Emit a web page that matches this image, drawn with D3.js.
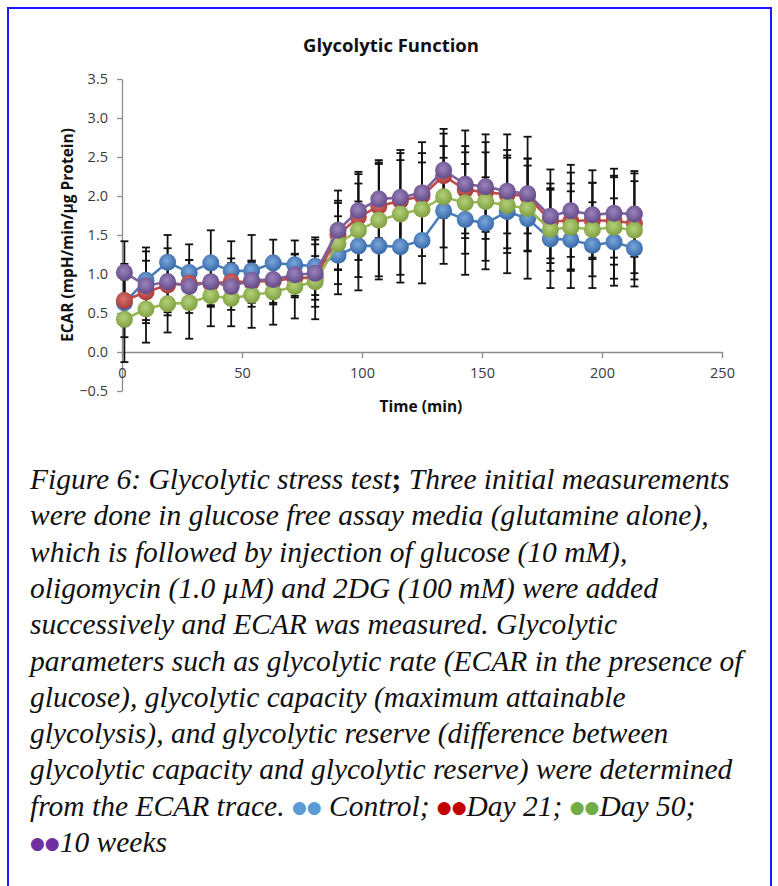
<!DOCTYPE html>
<html>
<head>
<meta charset="utf-8">
<script src="https://cdn.jsdelivr.net/npm/d3@7"></script>
<style>
  body { margin: 0; background: #fff; }
  svg { display: block; }
</style>
</head>
<body>
<script>
// time of each measurement (min)
var times = [1, 10, 19, 28, 37, 45.5, 54, 63, 72, 80.5, 90, 98.5, 107, 116, 125,
             134, 143, 151.5, 160.5, 169, 178.5, 187, 196, 205, 213.5];

var seriesNames = ['Control', 'Day 21', 'Day 50', '10 weeks'];

// mean ECAR values
var control = [0.63, 0.92, 1.15, 1.02, 1.14, 1.04, 1.04, 1.14, 1.12, 1.10, 1.24, 1.36, 1.36, 1.35, 1.43,
               1.81, 1.70, 1.65, 1.80, 1.71, 1.45, 1.44, 1.37, 1.41, 1.33];
var day21 = [0.66, 0.77, 0.86, 0.88, 0.88, 0.90, 0.90, 0.91, 0.95, 0.95, 1.50, 1.73, 1.87, 1.94, 2.00,
             2.26, 2.08, 2.05, 2.02, 2.00, 1.68, 1.68, 1.69, 1.68, 1.65];
var day50 = [0.42, 0.55, 0.62, 0.63, 0.72, 0.69, 0.73, 0.77, 0.84, 0.90, 1.39, 1.56, 1.69, 1.77, 1.83,
             1.99, 1.91, 1.93, 1.88, 1.84, 1.57, 1.60, 1.57, 1.60, 1.56];
var weeks10 = [1.02, 0.85, 0.90, 0.84, 0.90, 0.84, 0.92, 0.93, 0.99, 1.01, 1.56, 1.81, 1.96, 1.98, 2.04,
               2.33, 2.15, 2.12, 2.06, 2.03, 1.74, 1.81, 1.76, 1.78, 1.77];

// error (+/-) for each series
var controlErr = [0.30, 0.42, 0.35, 0.36, 0.42, 0.38, 0.46, 0.30, 0.31, 0.37, 0.50, 0.57, 0.43, 0.46, 0.55,
                  0.68, 0.71, 0.59, 0.79, 0.77, 0.63, 0.62, 0.55, 0.56, 0.49];
var day21Err = [0.47, 0.40, 0.35, 0.30, 0.30, 0.30, 0.27, 0.30, 0.25, 0.28, 0.44, 0.55, 0.56, 0.52, 0.55,
                0.54, 0.56, 0.51, 0.50, 0.48, 0.48, 0.62, 0.48, 0.56, 0.64];
var day50Err = [0.55, 0.43, 0.37, 0.46, 0.39, 0.36, 0.42, 0.42, 0.41, 0.48, 0.52, 0.60, 0.72, 0.78, 0.60,
                0.65, 0.65, 0.76, 0.61, 0.55, 0.53, 0.56, 0.60, 0.66, 0.63];
var weeks10Err = [0.40, 0.44, 0.43, 0.34, 0.30, 0.30, 0.25, 0.30, 0.27, 0.43, 0.51, 0.50, 0.50, 0.61, 0.65,
                  0.53, 0.69, 0.67, 0.73, 0.73, 0.60, 0.59, 0.57, 0.57, 0.55];

var xTicks = [0, 50, 100, 150, 200, 250];
var yTicks = [-0.5, 0, 0.5, 1.0, 1.5, 2.0, 2.5, 3.0, 3.5];

var captionLines = [
  'Figure 6: Glycolytic stress test; Three initial measurements',
  'were done in glucose free assay media (glutamine alone),',
  'which is followed by injection of glucose (10 mM),',
  'oligomycin (1.0 \u00b5M) and 2DG (100 mM) were added',
  'successively and ECAR was measured. Glycolytic',
  'parameters such as glycolytic rate (ECAR in the presence of',
  'glucose), glycolytic capacity (maximum attainable',
  'glycolysis), and glycolytic reserve (difference between',
  'glycolytic capacity and glycolytic reserve) were determined'
];

// chart colours (marker gradient light / dark) and caption legend colours
var colors = [
  {light: '#7aa6dc', dark: '#3769a8', line: '#4a7ebb'},
  {light: '#db7471', dark: '#a83a37', line: '#be4b48'},
  {light: '#b4d17a', dark: '#7f9e3f', line: '#98b954'},
  {light: '#9b84bd', dark: '#634a87', line: '#7d60a0'}
];
var legendColors = ['#5b9bd5', '#c00000', '#70ad47', '#7030a0'];

var series = [control, day21, day50, weeks10].map(function(vals, i) {
  var errs = [controlErr, day21Err, day50Err, weeks10Err][i];
  return {
    name: seriesNames[i],
    idx: i,
    points: vals.map(function(v, j) { return {t: times[j], v: v, e: errs[j]}; })
  };
});

var W = 778, H = 886;
var svg = d3.select('body').append('svg')
    .attr('width', W)
    .attr('height', H);

// blue frame
svg.append('path')
    .attr('d', 'M8,' + (H + 5) + ' V8 H771 V' + (H + 5))
    .attr('fill', 'none')
    .attr('stroke', '#1a1aff')
    .attr('stroke-width', 2);

var x = d3.scaleLinear().domain([0, 250]).range([122, 722]);
var y = d3.scaleLinear().domain([-0.5, 3.5]).range([391, 79]);

var defs = svg.append('defs');
colors.forEach(function(c, i) {
  var g = defs.append('radialGradient')
      .attr('id', 'grad' + i)
      .attr('cx', '45%').attr('cy', '40%').attr('r', '60%');
  g.append('stop').attr('offset', '0%').attr('stop-color', c.light);
  g.append('stop').attr('offset', '100%').attr('stop-color', c.dark);
});

var font = '"Open Sans", Lato, sans-serif';

// title
svg.append('text')
    .attr('x', 391)
    .attr('y', 52)
    .attr('text-anchor', 'middle')
    .style('font-family', font)
    .style('font-weight', 'bold')
    .style('font-size', '18.5px')
    .style('fill', '#111')
    .text('Glycolytic Function');

// y axis
var yAxis = svg.append('g')
    .attr('transform', 'translate(' + x(0) + ',0)')
    .call(d3.axisLeft(y).tickValues(yTicks).tickFormat(d3.format('.1f'))
      .tickSize(5).tickSizeOuter(0).tickPadding(9));

// x axis sits on y = 0
var xAxis = svg.append('g')
    .attr('transform', 'translate(0,' + y(0) + ')')
    .call(d3.axisBottom(x).tickValues(xTicks).tickFormat(d3.format('d'))
      .tickSize(6).tickSizeOuter(0).tickPadding(10));

[xAxis, yAxis].forEach(function(a) {
  a.select('.domain').attr('stroke', '#8c8c8c').attr('stroke-width', 1.3);
  a.selectAll('.tick line').attr('stroke', '#8c8c8c').attr('stroke-width', 1.3);
  a.selectAll('.tick text')
      .style('font-family', font)
      .style('font-size', '14.5px')
      .style('fill', '#3a3a3a');
});

// axis titles
svg.append('text')
    .attr('transform', 'translate(73,235) rotate(-90)')
    .attr('text-anchor', 'middle')
    .style('font-family', font)
    .style('font-weight', 'bold')
    .style('font-size', '15.5px')
    .style('fill', '#111')
    .text('ECAR (mpH/min/\u00b5g Protein)');

svg.append('text')
    .attr('x', 421)
    .attr('y', 412)
    .attr('text-anchor', 'middle')
    .style('font-family', font)
    .style('font-weight', 'bold')
    .style('font-size', '15.5px')
    .style('fill', '#111')
    .text('Time (min)');

// error bars (black, drawn behind the markers)
var capW = 4;
var eb = svg.append('g').attr('class', 'errorbars')
    .attr('stroke', '#111')
    .attr('stroke-width', 1.8);
series.forEach(function(s) {
  var g = eb.append('g');
  g.selectAll('line.v')
      .data(s.points)
      .enter().append('line')
      .attr('x1', function(d) { return x(d.t); })
      .attr('x2', function(d) { return x(d.t); })
      .attr('y1', function(d) { return y(d.v - d.e); })
      .attr('y2', function(d) { return y(d.v + d.e); });
  ['+', '-'].forEach(function(sign) {
    g.selectAll('line.cap' + (sign === '+' ? 'u' : 'd'))
        .data(s.points)
        .enter().append('line')
        .attr('x1', function(d) { return x(d.t) - capW; })
        .attr('x2', function(d) { return x(d.t) + capW; })
        .attr('y1', function(d) { return y(sign === '+' ? d.v + d.e : d.v - d.e); })
        .attr('y2', function(d) { return y(sign === '+' ? d.v + d.e : d.v - d.e); });
  });
});

// lines and markers
var line = d3.line()
    .x(function(d) { return x(d.t); })
    .y(function(d) { return y(d.v); });

series.forEach(function(s) {
  var g = svg.append('g').attr('class', 'series');
  g.append('path')
      .datum(s.points)
      .attr('d', line)
      .attr('fill', 'none')
      .attr('stroke', colors[s.idx].line)
      .attr('stroke-width', 2.6);
  g.selectAll('circle')
      .data(s.points)
      .enter().append('circle')
      .attr('cx', function(d) { return x(d.t); })
      .attr('cy', function(d) { return y(d.v); })
      .attr('r', 8.5)
      .attr('fill', 'url(#grad' + s.idx + ')');
});

// caption
var capFont = '"Liberation Serif", "Times New Roman", serif';
var capSize = '29.5px';
var lineH = 36.3;
var base0 = 489;

var cap = svg.append('g')
    .style('font-family', capFont)
    .style('font-style', 'italic')
    .style('font-size', capSize)
    .style('fill', '#111');

cap.selectAll('text.cl')
    .data(captionLines)
    .enter().append('text')
    .attr('class', 'cl')
    .attr('x', 30)
    .attr('y', function(d, i) { return base0 + i * lineH; })
    .each(function(d) {
      var t = d3.select(this);
      var k = d.indexOf('test;');
      if (k >= 0) {
        t.append('tspan').text(d.slice(0, k + 4));
        t.append('tspan').style('font-weight', 'bold').style('font-style', 'normal').text(';');
        t.append('tspan').text(d.slice(k + 5));
      } else {
        t.text(d);
      }
    });

// legend lines of caption
function dots(t, i) {
  t.append('tspan')
      .style('font-family', 'DejaVu Sans, sans-serif')
      .style('font-style', 'normal')
      .style('font-size', '17px')
      .attr('dy', -3)
      .style('fill', legendColors[i])
      .text('\u25cf\u25cf');
}
var leg1 = cap.append('text')
    .attr('x', 30)
    .attr('y', base0 + 9 * lineH);
leg1.append('tspan').text('from the ECAR trace. ');
dots(leg1, 0);
leg1.append('tspan').attr('dy', 3).text(' ' + seriesNames[0] + '; ');
dots(leg1, 1);
leg1.append('tspan').attr('dy', 3).text(seriesNames[1] + '; ');
dots(leg1, 2);
leg1.append('tspan').attr('dy', 3).text(seriesNames[2] + ';');

var leg2 = cap.append('text')
    .attr('x', 30)
    .attr('y', base0 + 10 * lineH);
dots(leg2, 3);
leg2.append('tspan').attr('dy', 3).text(seriesNames[3]);
</script>
</body>
</html>
